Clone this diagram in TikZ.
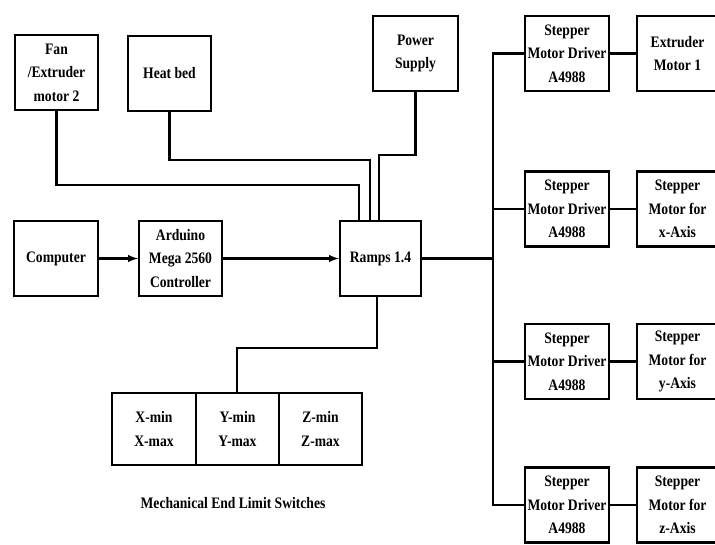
\documentclass[tikz,border=0pt]{standalone}
\usepackage{fontspec}
\setmainfont{Liberation Serif}[FakeStretch=0.85]
\usepackage{tikz}
\usetikzlibrary{positioning}

\tikzset{
	blk/.style={draw, line width=2.3pt, minimum width=83pt, minimum height=75pt, align=center, inner sep=1pt, font=\bfseries\fontsize{16}{23.5}\selectfont},
	cell/.style={blk, minimum width=83pt, minimum height=72pt},
	wire/.style={line width=2.3pt},
}

\begin{document}
\begin{tikzpicture}[x=1pt, y=-1pt, >=latex]
		\useasboundingbox (0,0) rectangle (715,544);
		% Top row
		\node[blk] (fan) at (56.5,72.5) {Fan\\/Extruder\\motor 2};
		\node[blk] (heat) at (169.5,73.5) {Heat bed};
		\node[blk, minimum width=85pt] (power) at (415.5,53.5) {Power\\Supply};
		% Middle row
		\node[blk, minimum width=84pt] (comp) at (56,258.5) {Computer};
		\node[blk] (ard) at (180.5,258.5) {Arduino\\Mega 2560\\Controller};
		\node[blk, minimum width=81pt] (ramps) at (380.5,258.5) {Ramps 1.4};
		% End limit switches
		\node[cell, minimum width=84pt] (xsw) at (154,429) {X-min\\X-max};
		\node[cell] (ysw) at (237.5,429) {Y-min\\Y-max};
		\node[cell] (zsw) at (320.5,429) {Z-min\\Z-max};
		\node[font=\bfseries\fontsize{16}{18}\selectfont] (swlbl) at (233,503) {Mechanical End Limit Switches};
		% Drivers and motors
		\node[blk, minimum width=84pt] (drv1) at (567,53.5) {Stepper\\Motor Driver\\A4988};
		\node[blk, minimum width=84pt] (drv2) at (567,209) {Stepper\\Motor Driver\\A4988};
		\node[blk, minimum width=84pt] (drv3) at (567,361.5) {Stepper\\Motor Driver\\A4988};
		\node[blk, minimum width=84pt] (drv4) at (567,505) {Stepper\\Motor Driver\\A4988};
		\node[blk, minimum width=81pt] (mot1) at (677.5,53.5) {Extruder\\Motor 1};
		\node[blk, minimum width=81pt] (mot2) at (677.5,209) {Stepper\\Motor for\\x-Axis};
		\node[blk, minimum width=81pt] (mot3) at (677.5,361.5) {Stepper\\Motor for\\y-Axis};
		\node[blk, minimum width=81pt] (mot4) at (677.5,505) {Stepper\\Motor for\\z-Axis};
		% Signal path
		\draw[wire,->] (comp) -- (ard);
		\draw[wire,->] (ard) -- (ramps);
		% Inputs into Ramps
		\draw[wire] (fan.south) |- (359,185) -- (359,0 |- ramps.north);
		\draw[wire] (heat.south) |- (370,160) -- (370,0 |- ramps.north);
		\draw[wire] (power.south) |- (379,155) -- (379,0 |- ramps.north);
		\draw[wire] (377,0 |- ramps.south) |- (237,348) -- (237,0 |- xsw.north);
		% Bus to drivers
		\coordinate (bus) at (493,258.5);
		\draw[wire] (ramps.east) -- (bus);
		\draw[wire] (drv1.west) -| (bus);
		\draw[wire] (drv4.west) -| (bus);
		\draw[wire] (drv2.west) -- (bus |- drv2.west);
		\draw[wire] (drv3.west) -- (bus |- drv3.west);
		\foreach \i in {1,...,4} \draw[wire] (drv\i) -- (mot\i);
	\end{tikzpicture}
\end{document}
